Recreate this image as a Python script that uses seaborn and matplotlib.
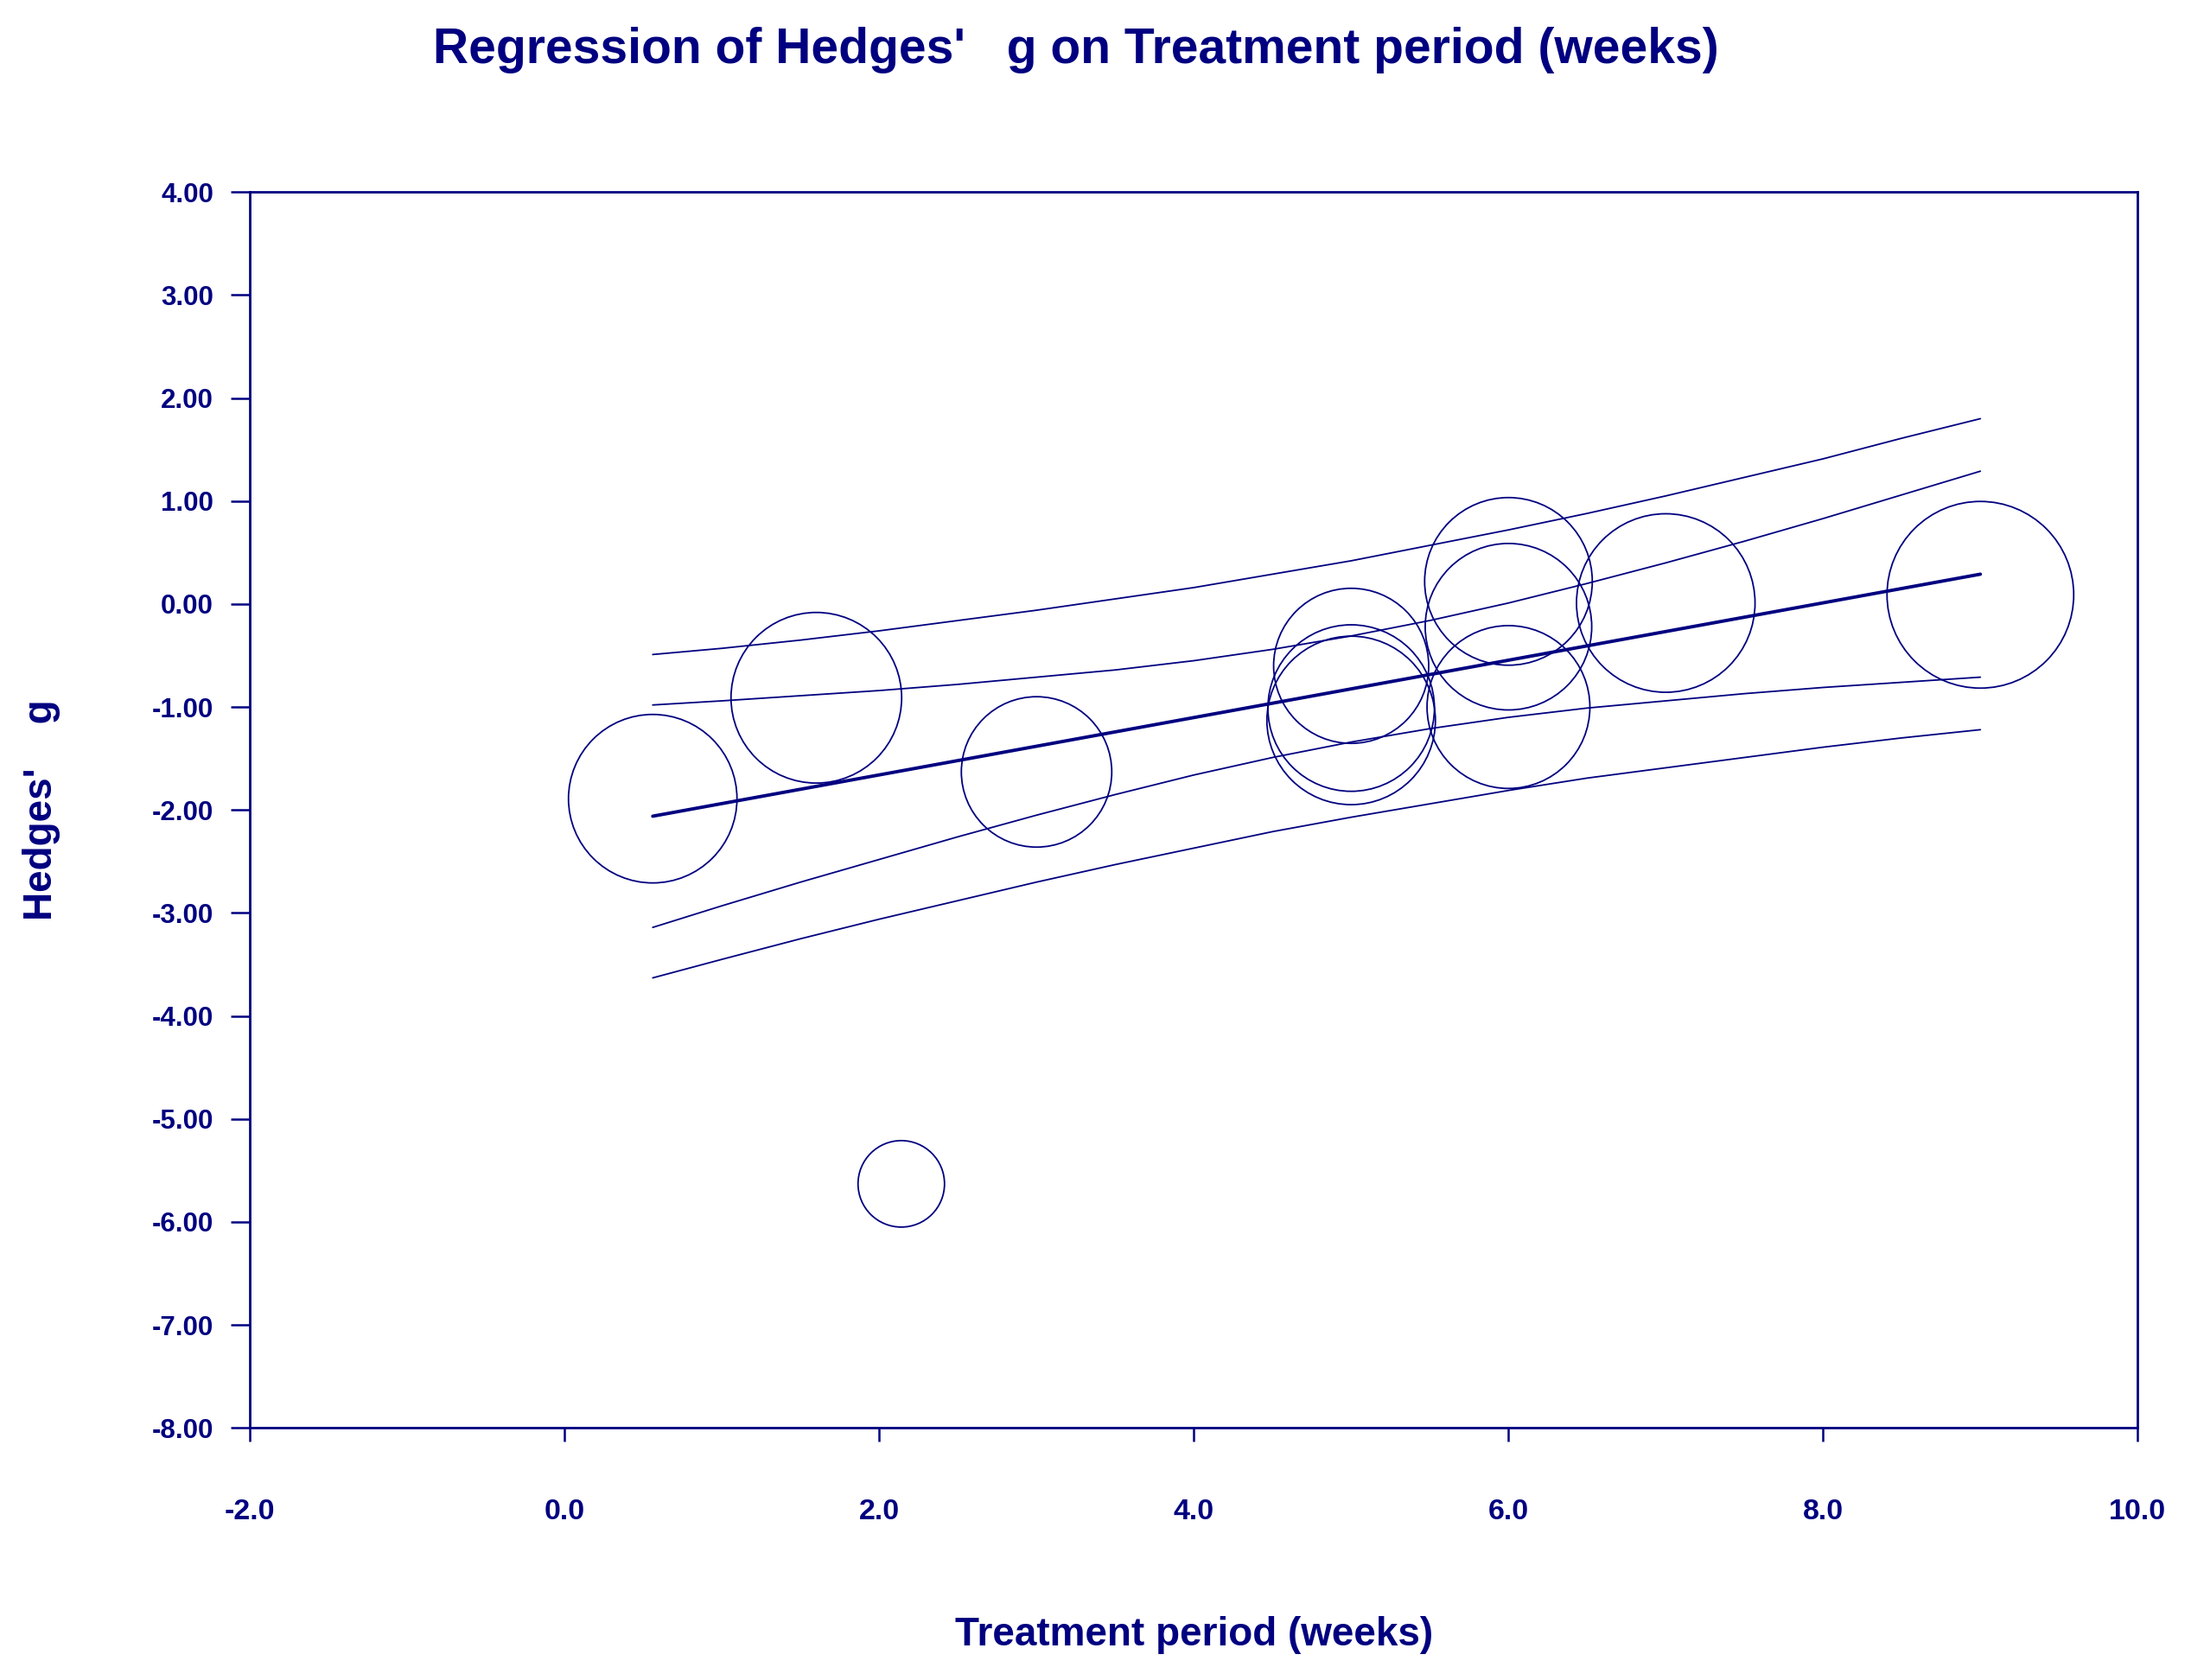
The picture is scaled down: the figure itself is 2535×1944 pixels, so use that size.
import numpy as np
import pandas as pd
import matplotlib
matplotlib.use("Agg")
import matplotlib.pyplot as plt
import seaborn as sns

# Studies: treatment period (weeks), Hedges' g, relative weight (%)
period = [0.56, 1.60, 3.00, 2.14, 5.00, 5.00, 5.00, 6.00, 6.00, 6.00, 7.00, 9.00]
hedges_g = [-1.89, -0.91, -1.63, -5.63, -0.60, -1.01, -1.13, 0.22, -0.22, -1.00, 0.01, 0.09]
weight = [8.96, 9.19, 7.14, 2.36, 7.59, 8.75, 8.96, 8.87, 8.75, 8.37, 10.06, 11.00]

# Regression line (end points)
reg_x = [0.56, 9.0]
reg_y = [-2.06, 0.29]

# Confidence / prediction bands read along x
band_x = [0.56, 1.0, 1.5, 2.0, 2.5, 3.0, 3.5, 4.0, 4.5, 5.0, 5.5, 6.0, 6.5, 7.0, 7.5, 8.0, 8.5, 9.0]
ci_upper = [-0.98, -0.94, -0.89, -0.84, -0.78, -0.71, -0.64, -0.55, -0.44, -0.31, -0.16, 0.01,
            0.20, 0.40, 0.61, 0.83, 1.06, 1.29]
ci_lower = [-3.14, -2.93, -2.70, -2.48, -2.26, -2.05, -1.85, -1.66, -1.49, -1.34, -1.21, -1.10,
            -1.01, -0.94, -0.87, -0.81, -0.76, -0.71]
pi_upper = [-0.49, -0.43, -0.35, -0.26, -0.16, -0.06, 0.05, 0.16, 0.29, 0.42, 0.57, 0.72,
            0.88, 1.05, 1.23, 1.41, 1.61, 1.80]
pi_lower = [-3.63, -3.45, -3.25, -3.06, -2.88, -2.70, -2.53, -2.37, -2.21, -2.07, -1.94, -1.81,
            -1.69, -1.59, -1.49, -1.39, -1.30, -1.22]

x_ticks = [-2, 0, 2, 4, 6, 8, 10]
y_ticks = [-8, -7, -6, -5, -4, -3, -2, -1, 0, 1, 2, 3, 4]

df = pd.DataFrame({"period": period, "g": hedges_g, "weight": weight})

navy = "#000080"
sns.set_style("white")
plt.rcParams["font.family"] = ["Liberation Sans", "DejaVu Sans"]
plt.rcParams["font.weight"] = "bold"

fig = plt.figure(figsize=(25.35, 19.44), dpi=100)
ax = fig.add_axes([0.11412, 0.15005, 0.86154, 0.73560])

# marker area (pt^2) per unit of weight
area_per_w = 2198.8
wmax = max(weight)
sns.scatterplot(data=df, x="period", y="g", size="weight",
                sizes=(0, area_per_w * wmax), size_norm=(0, wmax),
                marker="o", facecolors="none", edgecolor=navy, linewidth=1.3,
                legend=False, ax=ax, zorder=2)
for coll in ax.collections:
    coll.set_facecolor("none")
    coll.set_edgecolor(navy)

for yy in [ci_upper, ci_lower, pi_upper, pi_lower]:
    sns.lineplot(x=band_x, y=yy, color=navy, linewidth=1.3, sort=False,
                 estimator=None, ax=ax, zorder=3)
sns.lineplot(x=reg_x, y=reg_y, color=navy, linewidth=2.8, sort=False,
             estimator=None, ax=ax, zorder=4)

ax.set_xlim(-2, 10)
ax.set_ylim(-8, 4)
ax.set_xticks(x_ticks)
ax.set_yticks(y_ticks)
ax.set_xticklabels([f"{v:.1f}" for v in x_ticks])
ax.set_yticklabels([f"{v:.2f}" for v in y_ticks])

for sp in ax.spines.values():
    sp.set_visible(True)
    sp.set_color(navy)
    sp.set_linewidth(2)

ax.tick_params(axis="x", bottom=True, direction="out", length=11.5, width=1.8,
               color=navy, labelcolor=navy, labelsize=24.5, pad=47)
ax.tick_params(axis="y", left=True, direction="out", length=15.5, width=1.8,
               color=navy, labelcolor=navy, labelsize=22.5, pad=15)
for lab in ax.get_xticklabels() + ax.get_yticklabels():
    lab.set_fontweight("bold")

ax.set_xlabel("Treatment period (weeks)", fontsize=33, fontweight="bold", color=navy)
ax.xaxis.set_label_coords(0.5, -0.176)
ax.xaxis.label.set_va("baseline")
ax.set_ylabel("Hedges'    g", fontsize=33, fontweight="bold", color=navy)
ax.yaxis.set_label_coords(-0.1004, 0.5)

fig.text(0.4911, 0.9624, "Regression of Hedges'   g on Treatment period (weeks)",
         ha="center", va="baseline", fontsize=41, fontweight="bold", color=navy)

fig.savefig("out.png", dpi=100)
